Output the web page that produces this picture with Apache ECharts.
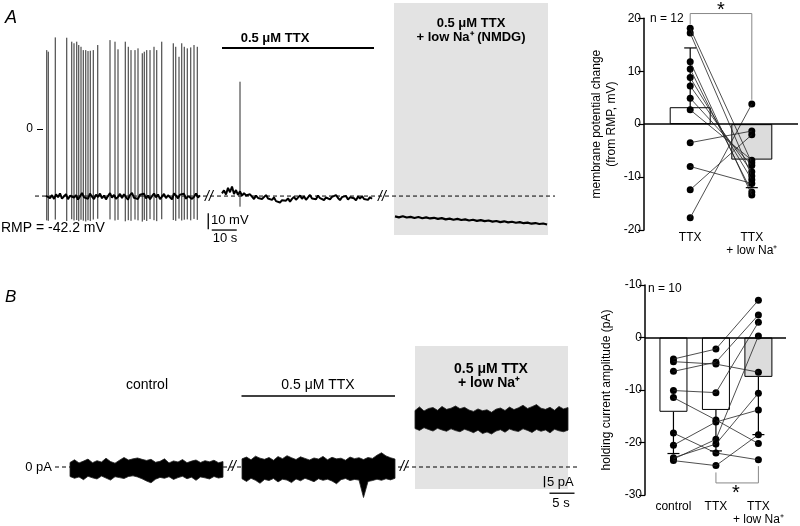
<!DOCTYPE html>
<html><head><meta charset="utf-8">
<script src="https://cdn.jsdelivr.net/npm/echarts@6/dist/echarts.min.js"></script>
<style>html,body{margin:0;padding:0;background:#fff}#c{width:800px;height:526px}</style>
</head><body><div id="c"></div>
<script>
// ================= DATA =================
// Panel A – current clamp trace (mV, s)
const rmpA = -42.2;
const spikeT = [4.7,5.3,8.1,12.7,14.7,15.6,16.7,17.5,18.4,19.3,20.3,21.2,22.1,23.3,25.1,30.0,32.0,33.2,36.1,37.3,38.4,40.0,41.2,42.9,43.7,44.7,46.0,47.6,48.7,50.7,55.3,56.3,57.6,58.7,59.7,60.9,62.3,63.6,64.9];
const spikePeak = [49.7,48.7,57.7,57.5,55.0,54.0,55.0,52.9,51.8,49.7,49.7,49.1,49.3,49.7,52.9,56.0,55.0,50.2,55.0,51.8,49.7,49.7,50.8,47.7,48.7,49.7,49.7,51.8,49.7,55.0,54.0,51.8,45.5,54.0,51.8,50.8,51.4,52.9,51.8];
const spikeTrough = [-57.5,-57.8,-57.0,-57.9,-56.8,-57.6,-57.3,-58.0,-57.1,-57.7,-58.2,-57.4,-57.9,-57.0,-56.5,-56.9,-57.6,-57.2,-58.1,-57.4,-57.8,-57.0,-57.5,-58.3,-57.2,-57.9,-56.7,-57.4,-58.0,-56.8,-57.3,-57.8,-56.4,-57.6,-57.1,-56.9,-57.5,-56.6,-57.2];
const ttxSpikeT = [82.0], ttxSpikePeak = [29.8], ttxSpikeTrough = [-48.9];
const base1T0 = 4.4, base1Dt = 0.8;
const base1 = [-42.0,-40.8,-43.5,-41.6,-44.0,-41.2,-42.9,-40.5,-43.8,-42.4,-41.0,-44.2,-42.0,-40.9,-43.1,-41.7,-44.4,-42.5,-40.3,-43.0,-41.8,-43.9,-40.7,-42.6,-44.1,-41.3,-42.8,-40.6,-43.6,-41.9,-44.3,-42.2,-40.4,-43.2,-41.5,-44.0,-42.7,-40.8,-43.4,-41.1,-42.9,-44.5,-41.6,-40.2,-43.3,-42.1,-44.0,-41.4,-42.6,-40.7,-43.7,-41.9,-44.2,-42.3,-40.6,-43.0,-41.2,-44.1,-42.5,-40.9,-43.5,-41.7,-42.8,-44.3,-40.5,-42.0,-43.6,-41.3,-42.4,-40.8,-43.9,-42.2,-41.0,-44.0,-42.7,-40.6,-43.1,-41.8];
const base2T0 = 74.8, base2Dt = 0.8;
const base2 = [-40.5,-38.6,-41.2,-37.0,-39.8,-36.2,-40.9,-38.4,-41.5,-39.2,-42.0,-40.3,-41.8,-43.0,-41.1,-42.6,-44.1,-41.9,-43.4,-42.2,-44.0,-42.8,-41.6,-43.7,-42.5,-44.6,-43.1,-45.4,-44.2,-46.3,-44.8,-46.0,-45.1,-43.6,-45.7,-44.0,-42.7,-44.5,-43.2,-41.8,-43.9,-42.4,-44.6,-43.0,-41.5,-43.8,-42.6,-44.2,-41.9,-43.5,-42.8,-44.7,-43.1,-42.0,-44.3,-42.7,-43.9,-41.6,-43.4,-44.8,-42.9,-43.7,-42.1,-44.4,-43.0,-41.8,-43.6,-44.9,-42.5,-43.8,-42.2,-44.1,-43.3,-44.6,-42.9,-43.9];
const base3T0 = 144.0, base3Dt = 1.56;
const base3 = [-55.0,-55.6,-54.9,-55.7,-55.3,-56.0,-55.4,-56.2,-55.6,-56.3,-55.9,-56.6,-56.1,-56.9,-56.4,-57.1,-56.6,-57.3,-56.9,-57.6,-57.1,-57.8,-57.4,-58.0,-57.6,-58.3,-57.9,-58.6,-58.1,-58.8,-58.4,-59.0,-58.6,-59.3,-58.9,-59.6,-59.2,-59.8,-59.5,-60.1];

// Panel A – summary (mV change from RMP)
const catsA = ['TTX', 'TTX\n+ low Na⁺'];
const meanA = [3.2, -6.7];
const sdEndA = [14.4, -12.0];
const cellTTX_A   = [18.1, 17.2, 11.8, 10.4, 8.8, 7.2, 4.9, 2.7, -3.5, -8.0, -12.4, -17.7];
const cellLowNa_A = [-7.3, -9.8, -13.4, -12.8, -10.5, -9.0, -7.8, -6.8, -1.3, -11.2, -2.0, 3.8];

// Panel B – voltage clamp traces (pA envelope, s)
const bDt = 0.9;
const b1T0 = 3.0;
const b1Hi = [2.0,3.2,1.8,2.6,3.5,1.9,2.8,2.2,3.9,2.4,1.7,3.0,4.2,3.1,3.6,4.0,3.4,2.9,3.4,2.1,2.5,3.6,1.8,2.7,2.2,3.3,1.9,2.6,3.1,2.0,2.8,2.3,3.0,1.9,2.4];
const b1Lo = [-4.2,-5.0,-4.4,-5.6,-4.1,-4.8,-5.3,-4.0,-4.9,-5.8,-4.3,-4.7,-5.1,-4.2,-3.9,-4.4,-5.2,-6.2,-7.0,-5.4,-4.6,-5.0,-4.3,-5.5,-4.7,-4.1,-5.2,-4.5,-5.9,-4.4,-4.8,-5.3,-4.2,-4.9,-4.5];
const b2T0 = 37.4;
const b2Hi = [3.6,4.4,3.2,4.8,3.9,3.4,4.2,3.0,4.6,3.7,5.0,4.1,3.3,4.5,3.8,3.1,4.0,3.5,4.7,3.2,4.3,3.6,3.9,3.0,4.4,3.7,4.1,3.3,4.2,3.8,5.2,6.3,4.9,4.1,3.5];
const b2Lo = [-5.2,-6.4,-5.0,-5.9,-7.2,-5.5,-6.0,-5.1,-6.6,-5.4,-5.8,-6.9,-5.3,-6.1,-5.0,-5.7,-6.5,-5.2,-5.9,-5.4,-6.2,-7.4,-5.6,-5.1,-6.0,-5.5,-5.8,-13.5,-6.4,-6.0,-5.4,-5.9,-5.2,-5.7,-5.0];
const b3T0 = 72.0;
const b3Hi = [25.0,26.6,24.8,25.9,26.3,25.1,26.8,25.5,26.0,27.0,25.8,26.4,25.2,24.6,25.7,24.9,25.3,24.2,25.6,26.1,25.0,26.5,25.4,26.2,27.3,25.9,26.7,27.6,26.0,25.5,26.4,25.1,26.8,25.7,26.3];
const b3Lo = [17.0,16.2,17.4,16.6,15.9,17.1,16.4,15.8,16.9,16.1,15.6,16.7,16.0,15.2,16.3,14.8,15.5,14.6,15.9,16.5,15.4,16.8,16.1,15.7,16.9,16.2,15.3,16.6,15.8,16.4,15.1,16.7,16.0,15.6,16.3];

// Panel B – summary (holding current, pA)
const catsB = ['control', 'TTX', 'TTX\n+ low Na⁺'];
const meanB = [-14.15, -13.8, -7.5];
const sdEndB = [-22.1, -21.6, -18.5];
const cellCtrl_B  = [-4.1, -4.6, -6.45, -10.1, -11.45, -18.2, -20.5, -23.15, -23.45, -22.9];
const cellTTX_B   = [-2.2, -5.07, -4.7, -10.5, -15.7, -22.0, -16.1, -19.4, -24.4, -20.3];
const cellLowNa_B = [7.1, -6.6, 4.3, 2.9, -20.2, -23.3, -13.8, 0.3, -18.5, -10.6];

// ================= CHART =================
const FONT = '"Liberation Sans", Arial, Helvetica, sans-serif';
const chart = echarts.init(document.getElementById('c'), null, {renderer: 'canvas'});
const sampled = (t0, dt, arr) => arr.map((v, i) => [t0 + i * dt, v]);
const noAxis = (g, min, max) => ({gridIndex: g, type: 'value', min, max, show: false});

function bandSeries(t0, hi, lo) {
  return {
    type: 'custom', xAxisIndex: 2, yAxisIndex: 2, silent: true,
    data: [[t0, 0]],
    renderItem: (p, api) => {
      const up = hi.map((v, i) => api.coord([t0 + i * bDt, v]));
      const dn = lo.map((v, i) => api.coord([t0 + i * bDt, v])).reverse();
      return {type: 'polygon', shape: {points: up.concat(dn)},
              style: {fill: '#000', stroke: '#222', lineWidth: 0.8}};
    }
  };
}
function errSeries(ax, data, cap) {
  return {
    type: 'custom', xAxisIndex: ax, yAxisIndex: ax, silent: true, z: 5,
    encode: {x: 0, y: [1, 2]},
    data,
    renderItem: (p, api) => {
      const a = api.coord([api.value(0), api.value(1)]);
      const b = api.coord([api.value(0), api.value(2)]);
      const st = {stroke: '#000', lineWidth: 1.2};
      return {type: 'group', children: [
        {type: 'line', shape: {x1: a[0], y1: a[1], x2: b[0], y2: b[1]}, style: st},
        {type: 'line', shape: {x1: b[0] - cap / 2, y1: b[1], x2: b[0] + cap / 2, y2: b[1]}, style: st}
      ]};
    }
  };
}
const lineS = (ax, data, opts) => Object.assign({
  type: 'line', xAxisIndex: ax, yAxisIndex: ax, data, showSymbol: false, silent: true, clip: false,
  lineStyle: {color: '#000', width: 1.5}, animation: false
}, opts || {});

const series = [];
// ---- Grid 0: panel A traces
series.push(lineS(0, [[0, rmpA], [208, rmpA]], {
  lineStyle: {color: '#000', width: 1, type: [4, 3]},
  markArea: {silent: true, itemStyle: {color: '#e3e3e3'},
    data: [[{xAxis: 143.6, yAxis: 79.3}, {xAxis: 205.2, yAxis: -66.7}]]},
  z: 1
}));
series.push(lineS(0, [[74.8, 51], [135.6, 51]], {lineStyle: {color: '#000', width: 2}}));
series.push(lineS(0, [[69.3, -53.1], [69.3, -63.1]], {lineStyle: {color: '#000', width: 1.3}}));
series.push(lineS(0, [[70.7, -63.6], [80.7, -63.6]], {lineStyle: {color: '#000', width: 1.3}}));
const spikeData = spikeT.map((t, i) => [t, spikePeak[i], spikeTrough[i]])
  .concat(ttxSpikeT.map((t, i) => [t, ttxSpikePeak[i], ttxSpikeTrough[i]]));
series.push({
  type: 'custom', xAxisIndex: 0, yAxisIndex: 0, silent: true, encode: {x: 0, y: [1, 2]},
  data: spikeData,
  renderItem: (p, api) => {
    const a = api.coord([api.value(0), api.value(1)]);
    const b = api.coord([api.value(0), api.value(2)]);
    return {type: 'line', shape: {x1: a[0], y1: a[1], x2: b[0], y2: b[1]},
            style: {stroke: '#2a2a2a', lineWidth: 1}};
  }
});
series.push(lineS(0, sampled(base1T0, base1Dt, base1), {lineStyle: {color: '#000', width: 2}}));
series.push(lineS(0, sampled(base2T0, base2Dt, base2), {lineStyle: {color: '#000', width: 2}}));
series.push(lineS(0, sampled(base3T0, base3Dt, base3), {lineStyle: {color: '#000', width: 2.2}}));

// ---- Grid 1: panel A summary
series.push({
  type: 'bar', xAxisIndex: 1, yAxisIndex: 1, barWidth: 41, silent: true,
  data: meanA.map((v, i) => ({value: [i + 1, v],
    itemStyle: {color: i === 1 ? '#dcdcdc' : '#fff', borderColor: '#000', borderWidth: 1}})),
  markLine: {silent: true, symbol: ['none', 'none'], label: {show: false},
    lineStyle: {color: '#000', width: 1.5, type: 'solid'}, data: [{yAxis: 0}]}
});
cellTTX_A.forEach((v, i) => series.push(lineS(1, [[1, v], [2, cellLowNa_A[i]]],
  {lineStyle: {color: '#222', width: 0.8}})));
series.push({type: 'scatter', xAxisIndex: 1, yAxisIndex: 1, symbolSize: 7, silent: true,
  itemStyle: {color: '#000', opacity: 1},
  data: cellTTX_A.map(v => [1, v]).concat(cellLowNa_A.map(v => [2, v]))});
series.push(errSeries(1, meanA.map((m, i) => [i + 1, m, sdEndA[i]]), 12));
series.push(lineS(1, [[1, 18.9], [1, 20.9], [2, 20.9], [2, 4.6]], {lineStyle: {color: '#888', width: 1}}));

// ---- Grid 2: panel B traces
series.push(lineS(2, [[0, 0], [104.6, 0]], {
  lineStyle: {color: '#000', width: 1, type: [4, 3]},
  markArea: {silent: true, itemStyle: {color: '#e3e3e3'},
    data: [[{xAxis: 72.0, yAxis: 53.5}, {xAxis: 102.6, yAxis: -9.7}]]},
  z: 1
}));
series.push(lineS(2, [[37.3, 31.4], [68.0, 31.4]], {lineStyle: {color: '#000', width: 1.5}}));
series.push(lineS(2, [[97.9, -4.0], [97.9, -9.0]], {lineStyle: {color: '#000', width: 1.3}}));
series.push(lineS(2, [[98.9, -11.6], [103.9, -11.6]], {lineStyle: {color: '#000', width: 1.3}}));
series.push(bandSeries(b1T0, b1Hi, b1Lo));
series.push(bandSeries(b2T0, b2Hi, b2Lo));
series.push(bandSeries(b3T0, b3Hi, b3Lo));

// ---- Grid 3: panel B summary
series.push({
  type: 'bar', xAxisIndex: 3, yAxisIndex: 3, barWidth: 28, silent: true,
  data: meanB.map((v, i) => ({value: [i + 1, v],
    itemStyle: {color: i === 2 ? '#dcdcdc' : '#fff', borderColor: '#000', borderWidth: 1}})),
  markLine: {silent: true, symbol: ['none', 'none'], label: {show: false},
    lineStyle: {color: '#000', width: 1.5, type: 'solid'}, data: [{yAxis: 0}]}
});
cellCtrl_B.forEach((v, i) => series.push(lineS(3, [[1, v], [2, cellTTX_B[i]], [3, cellLowNa_B[i]]],
  {lineStyle: {color: '#222', width: 0.8}})));
series.push({type: 'scatter', xAxisIndex: 3, yAxisIndex: 3, symbolSize: 7, silent: true,
  itemStyle: {color: '#000', opacity: 1},
  data: cellCtrl_B.map(v => [1, v]).concat(cellTTX_B.map(v => [2, v]), cellLowNa_B.map(v => [3, v]))});
series.push(errSeries(3, meanB.map((m, i) => [i + 1, m, sdEndB[i]]), 12));
series.push(lineS(3, [[2, -25.7], [2, -27.7], [3, -27.7], [3, -24.5]], {lineStyle: {color: '#888', width: 1}}));

const txt = (text, x, y, o) => ({type: 'text', x, y, z: 100, silent: true,
  style: Object.assign({text, fill: '#000', fontFamily: FONT, fontSize: 13, align: 'center', verticalAlign: 'middle'}, o || {})});

const catAxis = (g, min, max, cats, margin) => ({
  gridIndex: g, type: 'value', min, max,
  axisLine: {show: false}, axisTick: {show: false}, splitLine: {show: false},
  axisLabel: {customValues: cats.map((c, i) => i + 1), formatter: v => cats[Math.round(v) - 1],
    color: '#000', fontSize: 12, fontFamily: FONT, margin, lineHeight: 13}
});
const valAxis = (g, min, max, name, gap, fmt) => ({
  gridIndex: g, type: 'value', min, max, interval: 10,
  axisLine: {show: true, lineStyle: {color: '#000', width: 1.5}},
  axisTick: {show: true, length: 6, lineStyle: {color: '#000', width: 1.2}},
  splitLine: {show: false},
  axisLabel: {color: '#000', fontSize: 12, fontFamily: FONT, margin: 3, formatter: fmt},
  name, nameLocation: 'middle', nameRotate: 90, nameGap: gap,
  nameTextStyle: {color: '#000', fontSize: 12, fontFamily: FONT, lineHeight: 15}
});

chart.setOption({
  animation: false,
  textStyle: {fontFamily: FONT},
  grid: [
    {left: 35, top: 2, width: 525, height: 238.2},
    {left: 644, top: 18.3, width: 154, height: 211.7},
    {left: 55, top: 342.7, width: 525, height: 158.2},
    {left: 645, top: 285, width: 141, height: 211.7}
  ],
  xAxis: [
    noAxis(0, 0, 210),
    catAxis(1, 0.25, 2.75, catsA, 1),
    noAxis(2, 0, 105),
    catAxis(3, 0.33, 3.65, catsB, 5)
  ],
  yAxis: [
    {gridIndex: 0, type: 'value', min: -70, max: 80, offset: -8,
     axisLine: {show: false}, splitLine: {show: false},
     axisTick: {show: true, customValues: [0], length: 6, lineStyle: {color: '#000'}},
     axisLabel: {customValues: [0], color: '#000', fontSize: 12, margin: 10}},
    valAxis(1, -20, 20, 'membrane potential change\n(from RMP, mV)', 25),
    {gridIndex: 2, type: 'value', min: -15, max: 55,
     axisLine: {show: false}, splitLine: {show: false}, axisTick: {show: false},
     axisLabel: {customValues: [0], formatter: () => '0 pA', color: '#000', fontSize: 13, margin: 3}},
    valAxis(3, -30, 10, 'holding current amplitude (pA)', 31, v => (v === 10 ? '-10' : String(v)))
  ],
  graphic: [
    txt('A', 5, 18, {fontSize: 18, fontStyle: 'italic', align: 'left'}),
    txt('B', 5, 297, {fontSize: 17, fontStyle: 'italic', align: 'left'}),
    txt('0.5 μM TTX', 275, 38, {fontWeight: 'bold'}),
    txt('0.5 μM TTX', 471, 23, {fontWeight: 'bold'}),
    txt('+ low Na⁺ (NMDG)', 471, 37, {fontWeight: 'bold'}),
    txt('RMP = -42.2 mV', 1, 228, {fontSize: 14, align: 'left'}),
    txt('10 mV', 211, 220, {align: 'left'}),
    txt('10 s', 225, 238),
    txt('//', 209, 197, {fontSize: 14, fontStyle: 'italic'}),
    txt('//', 382, 197, {fontSize: 14, fontStyle: 'italic'}),
    txt('n = 12', 650, 19, {fontSize: 12, align: 'left'}),
    txt('*', 721, 10, {fontSize: 20}),
    txt('control', 147, 385, {fontSize: 14}),
    txt('0.5 μM TTX', 318, 385, {fontSize: 14}),
    txt('0.5 μM TTX', 491, 369, {fontSize: 14, fontWeight: 'bold'}),
    txt('+ low Na⁺', 489, 383, {fontSize: 14, fontWeight: 'bold'}),
    txt('5 pA', 547, 482, {align: 'left'}),
    txt('5 s', 561, 503),
    txt('//', 232, 467, {fontSize: 14, fontStyle: 'italic'}),
    txt('//', 404, 467, {fontSize: 14, fontStyle: 'italic'}),
    txt('n = 10', 648, 289, {fontSize: 12, align: 'left'}),
    txt('*', 736, 493, {fontSize: 20})
  ],
  series
});
</script></body></html>
